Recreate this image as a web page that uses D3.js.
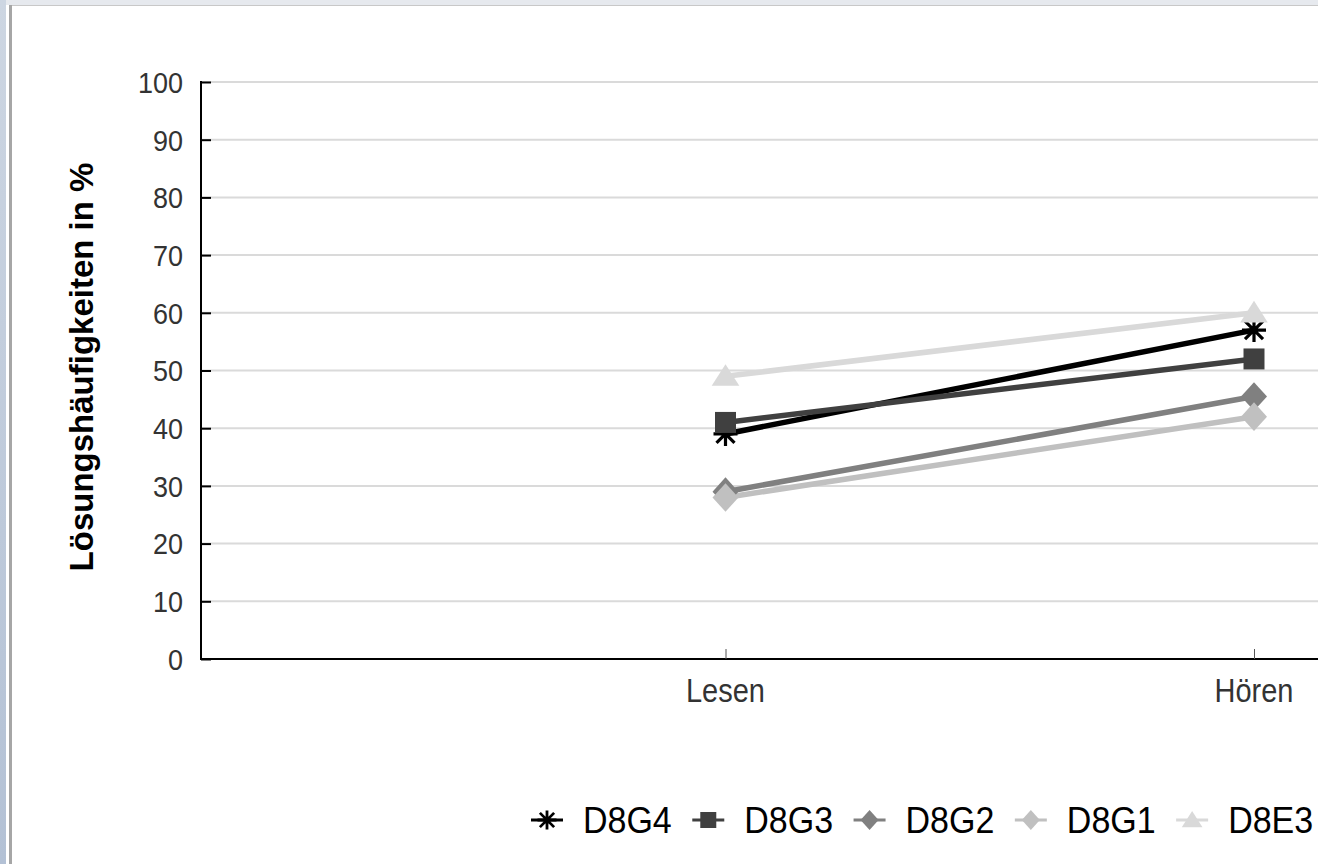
<!DOCTYPE html>
<html><head><meta charset="utf-8">
<script src="https://cdn.jsdelivr.net/npm/d3@7"></script>
<style>html,body{margin:0;padding:0;background:#fff;overflow:hidden}svg{display:block}</style>
</head><body>
<script>
const categories = ["", "Lesen", "Hören"];
const seriesNames = ["D8G4", "D8G3", "D8G2", "D8G1", "D8E3"];
const D8G4 = [null, 39, 57];
const D8G3 = [null, 41, 52];
const D8G2 = [null, 29, 45.5];
const D8G1 = [null, 28, 42];
const D8E3 = [null, 49, 60];
const yTicks = [0, 10, 20, 30, 40, 50, 60, 70, 80, 90, 100];
const yTitle = "Lösungshäufigkeiten in %";

const seriesData = [D8G4, D8G3, D8G2, D8G1, D8E3];
const colors = ["#000000", "#404040", "#808080", "#c0c0c0", "#d9d9d9"];
const shapes = ["asterisk", "square", "diamond", "diamond", "triangle"];

const W = 1318, H = 864;
const FONT = "Liberation Sans, Arial, sans-serif";
const svg = d3.select("body").append("svg").attr("width", W).attr("height", H);

// frame
const defs = svg.append("defs");
const lg = defs.append("linearGradient").attr("id","lb").attr("x1",0).attr("x2",0).attr("y1",0).attr("y2",1);
lg.append("stop").attr("offset","0%").attr("stop-color","#cdd6e2");
lg.append("stop").attr("offset","100%").attr("stop-color","#b3c1d5");
svg.append("rect").attr("x",0).attr("y",0).attr("width",W).attr("height",H).attr("fill","#fff");
svg.append("rect").attr("x",0).attr("y",0).attr("width",W).attr("height",5).attr("fill","#e6e9ee");
svg.append("rect").attr("x",0).attr("y",0).attr("width",6).attr("height",H).attr("fill","url(#lb)");
svg.append("rect").attr("x",9).attr("y",5).attr("width",3).attr("height",H-5).attr("fill","#a6a6a6");
svg.append("rect").attr("x",12).attr("y",5).attr("width",W-12).attr("height",1).attr("fill","#c8c8c8");

const axisX = 201;
const y = d3.scaleLinear().domain([0, 100]).range([659, 82]);
const x = d3.scalePoint().domain(categories).range([197, 1254]);

// gridlines
svg.append("g").selectAll("line").data(yTicks.filter(d => d > 0)).join("line")
  .attr("x1", axisX).attr("x2", W).attr("y1", d => y(d)).attr("y2", d => y(d))
  .attr("stroke", "#dadada").attr("stroke-width", 2);

// y axis
const yAxis = d3.axisRight(y).tickValues(yTicks).tickSize(10).tickFormat("");
const gy = svg.append("g").attr("transform", `translate(${axisX},0)`).call(yAxis);
gy.select(".domain").remove();
gy.selectAll(".tick line").attr("stroke", "#000").attr("stroke-width", 2);
svg.append("g").selectAll("text").data(yTicks).join("text")
  .attr("transform", d => `translate(183,${y(d)}) scale(1,1.12)`)
  .attr("text-anchor", "end").attr("dy", "0.36em")
  .attr("font-family", FONT).attr("font-size", 27).attr("fill", "#333").text(d => d);
svg.append("line").attr("x1", axisX).attr("x2", axisX).attr("y1", y(100) - 1).attr("y2", y(0) + 1)
  .attr("stroke", "#000").attr("stroke-width", 2);

// x axis
svg.append("line").attr("x1", axisX).attr("x2", W).attr("y1", y(0)).attr("y2", y(0)).attr("stroke", "#000").attr("stroke-width", 2);
const xAxis = d3.axisTop(x).tickValues(categories.filter(c => c)).tickSize(10).tickFormat("");
const gx = svg.append("g").attr("transform", `translate(0,${y(0)})`).call(xAxis);
gx.select(".domain").remove();
gx.selectAll(".tick line").attr("stroke", "#555").attr("stroke-width", 1);
svg.append("g").selectAll("text").data(categories.filter(c => c)).join("text")
  .attr("transform", d => `translate(${x(d)},702) scale(1,1.15)`).attr("text-anchor", "middle")
  .attr("font-family", FONT).attr("font-size", 29).attr("fill", "#333")
  .text(d => d);

// y title
svg.append("text").attr("transform", "translate(93,367) rotate(-90)").attr("text-anchor", "middle")
  .attr("font-family", FONT).attr("font-size", 33).attr("font-weight", "bold")
  .attr("fill", "#000").text(yTitle);

function markerPath(shape, s) {
  if (shape === "square") return `M${-s},${-s}H${s}V${s}H${-s}Z`;
  if (shape === "diamond") return `M0,${-s*1.1}L${s},0L0,${s*1.1}L${-s},0Z`;
  if (shape === "triangle") return `M0,${-s*1.0}L${s*1.15},${s*0.8}L${-s*1.15},${s*0.8}Z`;
  const a = s * 0.75;
  return `M${-s},0H${s}M0,${-s}V${s}M${-a},${-a}L${a},${a}M${-a},${a}L${a},${-a}`;
}

// lines
const line = d3.line().defined(d => d.v != null).x(d => x(d.c)).y(d => y(d.v));
const plot = svg.append("g");
seriesData.forEach((vals, i) => {
  const pts = categories.map((c, j) => ({ c, v: vals[j] }));
  plot.append("path").datum(pts).attr("d", line).attr("fill", "none")
    .attr("stroke", colors[i]).attr("stroke-width", 5.5).attr("stroke-linejoin", "round");
});
seriesData.forEach((vals, i) => {
  const pts = categories.map((c, j) => ({ c, v: vals[j] })).filter(d => d.v != null);
  const sizes = { square: 10.5, diamond: 13, triangle: 12, asterisk: 12 };
  plot.append("g").selectAll("path").data(pts).join("path")
    .attr("transform", d => `translate(${x(d.c)},${y(d.v)})`)
    .attr("d", markerPath(shapes[i], sizes[shapes[i]]))
    .attr("fill", shapes[i] === "asterisk" ? "none" : colors[i])
    .attr("stroke", colors[i]).attr("stroke-width", shapes[i] === "asterisk" ? 3.2 : 0);
});

// legend
const leg = svg.append("g");
let cx = 547;
const ly = 820;
seriesNames.forEach((name, i) => {
  const g = leg.append("g");
  g.append("line").attr("x1", cx - 16).attr("x2", cx + 16).attr("y1", ly).attr("y2", ly)
    .attr("stroke", colors[i]).attr("stroke-width", 3);
  const ls = { square: 8, diamond: 9, triangle: 9, asterisk: 9.5 };
  g.append("path").attr("transform", `translate(${cx},${ly})`).attr("d", markerPath(shapes[i], ls[shapes[i]]))
    .attr("fill", shapes[i] === "asterisk" ? "none" : colors[i])
    .attr("stroke", colors[i]).attr("stroke-width", shapes[i] === "asterisk" ? 2.8 : 0);
  const t = g.append("text").attr("transform", `translate(${cx + 36},833) scale(1,1.06)`)
    .attr("font-family", FONT).attr("font-size", 34).attr("fill", "#000").text(name);
  cx = cx + 36 + t.node().getComputedTextLength() + 36.5;
});
</script>
</body></html>
